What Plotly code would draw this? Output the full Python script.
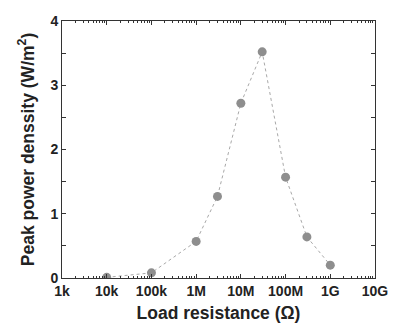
import plotly.graph_objects as go

# Load resistance (ohm) and measured peak power density (W/m^2)
resistance = [1e4, 1e5, 1e6, 3e6, 1e7, 3e7, 1e8, 3e8, 1e9]
power_density = [0.01, 0.08, 0.57, 1.27, 2.72, 3.52, 1.57, 0.64, 0.20]

x_tick_vals = [1e3, 1e4, 1e5, 1e6, 1e7, 1e8, 1e9, 1e10]
x_tick_text = ["1k", "10k", "100k", "1M", "10M", "100M", "1G", "10G"]
y_tick_vals = [0, 1, 2, 3, 4]

# intermediate log ticks (2..9 within each decade)
x_minor_vals = [m * d for d in x_tick_vals[:-1] for m in range(2, 10)]

INK = "#333333"
FONT = "Liberation Sans"

fig = go.Figure()

# invisible copy of the series so the minor-tick axis gets drawn
fig.add_trace(
    go.Scatter(
        x=resistance,
        y=power_density,
        xaxis="x2",
        mode="markers",
        marker=dict(opacity=0),
        hoverinfo="skip",
        showlegend=False,
    )
)

fig.add_trace(
    go.Scatter(
        x=resistance,
        y=power_density,
        mode="lines+markers",
        line=dict(color="#a8a8a8", width=1, dash="3px,3px"),
        marker=dict(color="#8e8e8e", size=9),
        showlegend=False,
    )
)

axis_common = dict(
    showgrid=False,
    zeroline=False,
    showline=True,
    linecolor=INK,
    linewidth=1,
    ticks="inside",
    tickcolor=INK,
    tickwidth=1,
    mirror="ticks",
    tickfont=dict(family=FONT, size=14, color="#222222", weight="bold"),
)

fig.update_layout(
    xaxis=dict(
        type="log",
        range=[3, 10],
        tickvals=x_tick_vals,
        ticktext=x_tick_text,
        ticklen=4,
        title=dict(
            text="Load resistance (Ω)",
            font=dict(family=FONT, size=17.5, color="#222222", weight="bold"),
            standoff=8,
        ),
        **axis_common,
    ),
    yaxis=dict(
        range=[0, 4],
        tickvals=y_tick_vals,
        ticklen=4,
        minor=dict(ticks="inside", ticklen=4, tickcolor=INK, dtick=0.5, showgrid=False),
        title=dict(
            text="Peak power denssity (W/m<sup>2</sup>)",
            font=dict(family=FONT, size=17.5, color="#222222", weight="bold"),
            standoff=11,
        ),
        **axis_common,
    ),
    # second bottom axis carrying the short intermediate log ticks
    xaxis2=dict(
        type="log",
        range=[3, 10],
        overlaying="x",
        anchor="y",
        side="bottom",
        tickmode="array",
        tickvals=x_minor_vals,
        ticks="inside",
        ticklen=2,
        tickwidth=1,
        tickcolor=INK,
        mirror="ticks",
        showline=True,
        linecolor=INK,
        showticklabels=False,
        showgrid=False,
        zeroline=False,
    ),
    width=400,
    height=331,
    margin=dict(l=62, r=16, t=21, b=52),
    paper_bgcolor="white",
    plot_bgcolor="white",
)

fig.write_html("out.html")
